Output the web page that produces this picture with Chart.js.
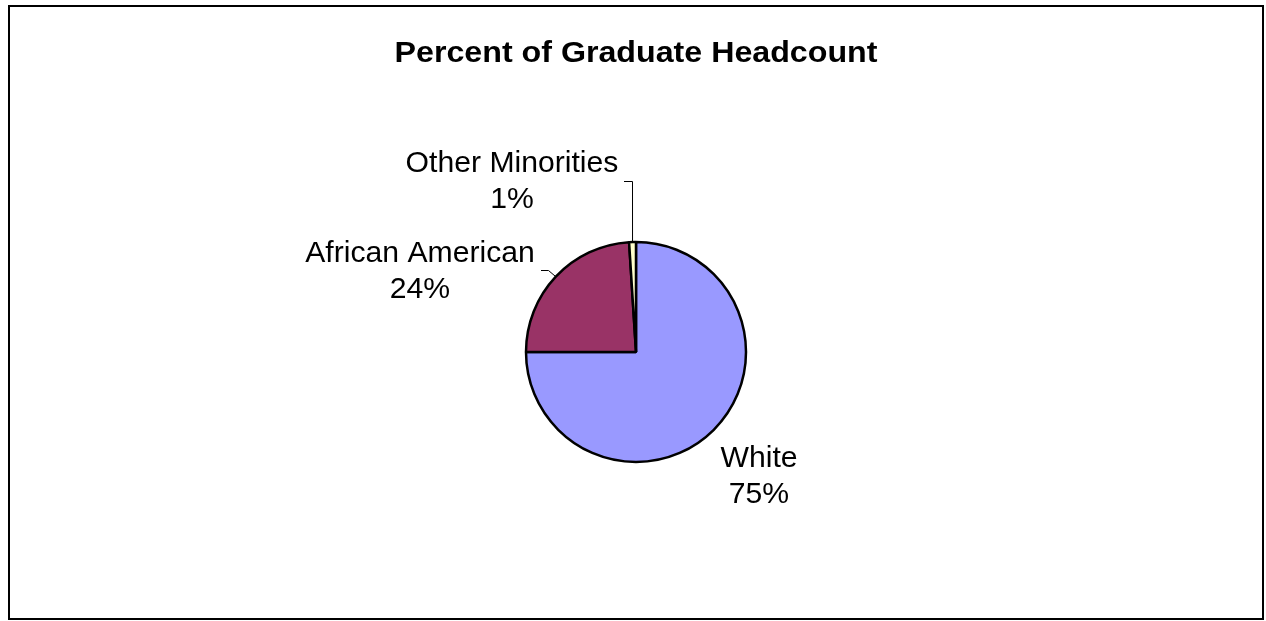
<!DOCTYPE html>
<html>
<head>
<meta charset="utf-8">
<script src="https://cdn.jsdelivr.net/npm/chart.js@4"></script>
<style>
html,body{margin:0;padding:0;background:#fff;}
#wrap{position:relative;width:1266px;height:621px;}
</style>
</head>
<body>
<div id="wrap"><canvas id="c"></canvas></div>
<script>
const titleText = "Percent of Graduate Headcount";
const categories = ["White", "African American", "Other Minorities"];
const values = [75, 24, 1];
const percentLabels = ["75%", "24%", "1%"];
const colors = ["#9999FF", "#993366", "#FFFFCC"];

// label placement (style): [labelCenterX, firstBaselineY, leaderPoints]
const labelStyle = [
  {cx: 759, base: 467, leader: null},
  {cx: 420, base: 262, leader: [[541, 270.5], [548.5, 270.5]]},
  {cx: 512, base: 172, leader: [[624, 181.5], [632.5, 181.5]]}
];

function drawText(ctx, txt, cx, y, size, bold, stretch) {
  ctx.save();
  ctx.font = (bold ? "bold " : "") + size + "px 'Liberation Sans', Arial, sans-serif";
  ctx.fillStyle = "#000";
  ctx.textAlign = "center";
  ctx.textBaseline = "alphabetic";
  ctx.translate(cx, y);
  ctx.scale(stretch, 1);
  ctx.fillText(txt, 0, 0);
  ctx.restore();
}

const decor = {
  id: "decor",
  afterDraw(chart) {
    const ctx = chart.ctx;
    ctx.save();
    ctx.strokeStyle = "#000";
    ctx.lineWidth = 2;
    ctx.strokeRect(9, 6, 1254, 613);
    ctx.restore();
    drawText(ctx, titleText, 636, 62, 29, true, 1.11);
    const meta = chart.getDatasetMeta(0);
    meta.data.forEach((arc, i) => {
      const st = labelStyle[i];
      drawText(ctx, categories[i], st.cx, st.base, 29, false, 1.04);
      drawText(ctx, percentLabels[i], st.cx, st.base + 36, 29, false, 1.04);
      if (st.leader) {
        const mid = (arc.startAngle + arc.endAngle) / 2;
        const ex = arc.x + Math.cos(mid) * arc.outerRadius;
        const ey = arc.y + Math.sin(mid) * arc.outerRadius;
        ctx.save();
        ctx.strokeStyle = "#000";
        ctx.lineWidth = 1;
        ctx.beginPath();
        ctx.moveTo(st.leader[0][0], st.leader[0][1]);
        ctx.lineTo(st.leader[1][0], st.leader[1][1]);
        ctx.lineTo(ex, ey);
        ctx.stroke();
        ctx.restore();
      }
    });
  }
};

new Chart(document.getElementById("c"), {
  type: "pie",
  data: {
    labels: categories,
    datasets: [{
      data: values,
      backgroundColor: colors,
      borderColor: "#000",
      borderWidth: 2.5,
      radius: 110
    }]
  },
  options: {
    responsive: true,
    maintainAspectRatio: false,
    animation: false,
    layout: {padding: {top: 242, bottom: 159, left: 526, right: 520}},
    plugins: {legend: {display: false}, tooltip: {enabled: false}, title: {display: false}}
  },
  plugins: [decor]
});
</script>
</body>
</html>
